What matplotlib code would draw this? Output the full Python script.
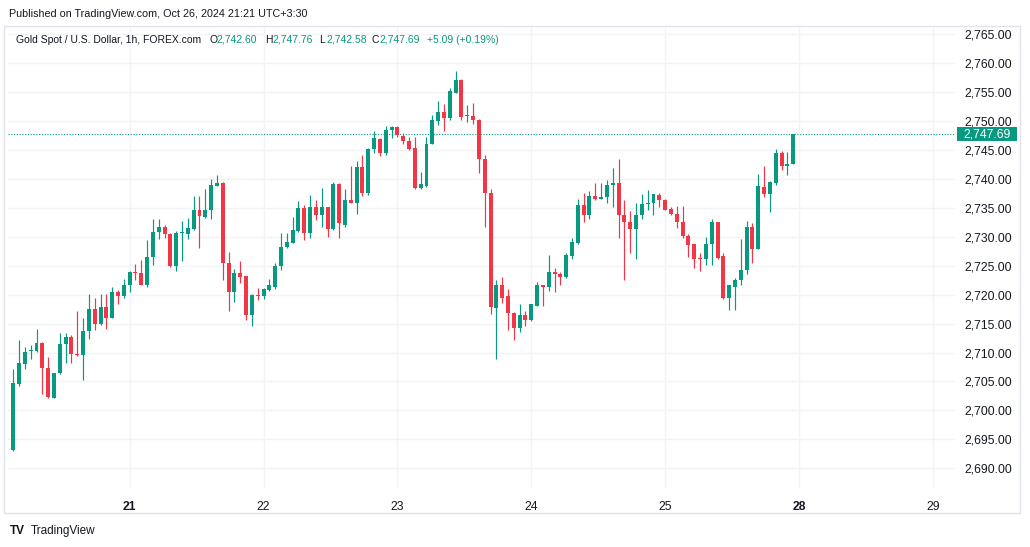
import matplotlib
matplotlib.use("Agg")
import matplotlib.pyplot as plt
import matplotlib.transforms as mtransforms
from matplotlib.patches import Rectangle
from matplotlib.ticker import FuncFormatter
import numpy as np

plt.rcParams['font.family'] = ['Liberation Sans', 'DejaVu Sans']

# hourly OHLC, XAUUSD (FOREX.com)
opens = [2693.1, 2704.5, 2708.1, 2710.2, 2710.3, 2711.7, 2707.4, 2702.2, 2706.4, 2711.4,
         2712.6, 2709.8, 2709.6, 2713.8, 2717.5, 2714.9, 2717.8, 2716.0, 2720.4, 2719.8,
         2721.6, 2723.9, 2723.8, 2721.7, 2726.5, 2730.8, 2731.7, 2730.5, 2724.9, 2730.6,
         2730.5, 2731.4, 2734.7, 2733.4, 2734.6, 2738.8, 2739.3, 2725.5, 2720.4, 2723.8,
         2723.2, 2716.4, 2720.0, 2719.7, 2720.8, 2721.4, 2724.9, 2728.2, 2729.0, 2731.0,
         2735.0, 2730.6, 2735.2, 2733.7, 2735.1, 2731.4, 2739.1, 2732.1, 2736.3, 2735.9,
         2742.0, 2737.6, 2745.2, 2746.8, 2744.5, 2748.5, 2749.0, 2747.4, 2746.6, 2745.4,
         2738.5, 2738.7, 2746.1, 2750.0, 2751.6, 2750.5, 2754.9, 2757.1, 2750.8, 2750.9,
         2750.2, 2743.4, 2737.6, 2717.7, 2721.7, 2719.7, 2716.9, 2714.2, 2716.4, 2715.6,
         2718.1, 2721.6, 2721.3, 2723.9, 2723.5, 2723.0, 2726.6, 2728.9, 2735.4, 2733.7,
         2737.0, 2736.6, 2736.9, 2738.9, 2739.3, 2733.8, 2732.6, 2731.3, 2733.8, 2735.6,
         2735.8, 2737.2, 2736.4, 2734.8, 2734.0, 2732.5, 2730.2, 2728.7, 2726.3, 2726.1,
         2728.7, 2732.5, 2726.6, 2719.4, 2721.4, 2722.5, 2724.3, 2731.7, 2727.9, 2738.6,
         2737.3, 2739.3, 2744.5, 2742.2, 2742.60]
highs = [2707.1, 2712.2, 2711.0, 2711.3, 2714.1, 2711.9, 2709.2, 2706.5, 2713.4, 2713.4,
         2713.0, 2717.2, 2715.9, 2720.1, 2719.4, 2720.1, 2720.1, 2721.4, 2720.8, 2722.7,
         2724.0, 2725.3, 2725.9, 2729.4, 2733.0, 2733.0, 2732.1, 2730.6, 2731.0, 2732.7,
         2733.3, 2737.0, 2737.0, 2738.3, 2740.0, 2740.6, 2739.4, 2727.3, 2724.4, 2725.8,
         2723.3, 2720.1, 2721.2, 2721.2, 2722.7, 2725.5, 2730.6, 2730.7, 2733.4, 2736.2,
         2735.4, 2737.2, 2736.3, 2738.5, 2735.2, 2739.5, 2739.2, 2738.2, 2742.2, 2743.1,
         2744.2, 2745.3, 2748.3, 2747.1, 2749.1, 2749.1, 2749.1, 2747.9, 2747.2, 2747.2,
         2741.2, 2747.2, 2751.0, 2753.4, 2752.9, 2755.7, 2758.6, 2757.2, 2752.8, 2753.1,
         2750.3, 2744.1, 2738.3, 2722.5, 2723.1, 2720.9, 2717.0, 2718.4, 2717.1, 2718.4,
         2722.1, 2721.7, 2726.9, 2724.6, 2723.9, 2727.2, 2729.8, 2736.6, 2737.5, 2737.9,
         2739.3, 2739.3, 2739.8, 2741.9, 2743.5, 2736.4, 2734.4, 2735.8, 2737.3, 2738.1,
         2737.4, 2737.6, 2736.5, 2735.2, 2735.3, 2735.3, 2730.4, 2728.8, 2727.2, 2730.0,
         2733.0, 2732.6, 2727.2, 2721.7, 2722.9, 2729.6, 2732.7, 2732.3, 2740.8, 2742.3,
         2739.6, 2745.2, 2744.8, 2744.7, 2747.76]
lows = [2693.0, 2704.2, 2707.2, 2708.9, 2710.1, 2702.9, 2702.2, 2702.1, 2706.3, 2708.2,
        2708.2, 2709.4, 2705.2, 2712.3, 2713.9, 2714.7, 2714.0, 2715.9, 2718.4, 2719.5,
        2720.4, 2722.6, 2721.6, 2721.3, 2725.2, 2729.6, 2729.8, 2724.8, 2724.0, 2725.8,
        2729.6, 2731.1, 2728.1, 2733.3, 2733.1, 2738.7, 2722.6, 2717.1, 2718.7, 2722.0,
        2715.7, 2714.5, 2719.1, 2719.3, 2720.7, 2720.9, 2724.3, 2728.1, 2728.9, 2730.9,
        2729.4, 2729.7, 2732.9, 2731.7, 2730.0, 2731.1, 2729.7, 2731.7, 2735.8, 2734.0,
        2737.0, 2737.2, 2744.4, 2744.0, 2744.1, 2747.0, 2747.2, 2746.1, 2744.9, 2738.3,
        2738.2, 2738.6, 2746.0, 2749.3, 2748.2, 2750.1, 2754.8, 2750.1, 2749.9, 2749.5,
        2741.0, 2731.7, 2716.6, 2708.8, 2718.5, 2713.9, 2712.2, 2713.5, 2714.5, 2715.4,
        2718.0, 2718.1, 2720.6, 2720.4, 2721.7, 2722.9, 2726.2, 2728.7, 2732.5, 2733.1,
        2736.3, 2736.5, 2735.9, 2735.2, 2729.8, 2722.6, 2727.2, 2726.1, 2733.1, 2734.6,
        2733.8, 2735.2, 2734.6, 2733.8, 2731.5, 2729.8, 2726.5, 2724.6, 2724.0, 2725.2,
        2725.2, 2726.2, 2719.2, 2717.3, 2717.4, 2721.6, 2723.5, 2725.5, 2727.8, 2736.9,
        2734.3, 2739.0, 2741.5, 2740.6, 2742.58]
closes = [2704.8, 2708.2, 2710.1, 2710.3, 2711.6, 2707.4, 2702.3, 2706.4, 2711.4, 2712.6,
          2709.7, 2709.6, 2713.8, 2717.5, 2714.9, 2717.8, 2715.9, 2720.4, 2719.8, 2721.7,
          2723.9, 2723.7, 2721.7, 2726.5, 2730.8, 2731.7, 2730.5, 2724.9, 2730.6, 2730.7,
          2731.5, 2734.7, 2733.6, 2734.7, 2738.9, 2739.3, 2725.4, 2720.4, 2723.8, 2723.0,
          2716.4, 2720.0, 2719.7, 2720.9, 2721.7, 2725.0, 2728.3, 2729.1, 2731.1, 2735.0,
          2730.7, 2735.2, 2733.7, 2735.1, 2731.4, 2739.1, 2732.3, 2736.4, 2735.9, 2742.0,
          2737.6, 2745.2, 2747.0, 2744.5, 2748.5, 2749.0, 2747.5, 2746.6, 2745.1, 2738.5,
          2739.1, 2746.1, 2750.2, 2751.6, 2750.5, 2755.1, 2757.1, 2750.6, 2751.0, 2750.1,
          2743.4, 2737.5, 2717.8, 2721.7, 2719.4, 2716.8, 2714.2, 2716.5, 2715.7, 2718.3,
          2721.6, 2721.3, 2723.9, 2723.5, 2723.0, 2726.8, 2729.1, 2735.4, 2733.7, 2737.0,
          2736.6, 2736.9, 2738.9, 2739.3, 2733.8, 2732.5, 2731.3, 2733.8, 2735.6, 2735.9,
          2737.3, 2736.3, 2734.7, 2734.0, 2732.5, 2730.1, 2728.5, 2726.2, 2726.1, 2728.8,
          2732.5, 2726.3, 2719.4, 2721.6, 2722.5, 2724.3, 2731.7, 2727.9, 2738.8, 2737.3,
          2739.5, 2744.5, 2742.2, 2742.6, 2747.69]

day_labels = ['21', '22', '23', '24', '25', '28', '29']
day_first_bar = [20, 43, 66, 89, 112, 135, 158]
week_start = ['21', '28']

last_price = closes[-1]
change = closes[-1] - closes[-2]

GREEN = '#089981'
RED = '#f23645'
TXT = '#131722'
GRID = '#f2f3f6'

W, H = 1030, 547
fig = plt.figure(figsize=(W / 100, H / 100), dpi=100)
fig.patch.set_facecolor('white')


def fx(px):
    return px / W


def fy(py):
    return 1 - py / H


ax = fig.add_axes([fx(8), fy(488), (955 - 8) / W, (488 - 26) / H])

o, h, l, c = map(np.array, (opens, highs, lows, closes))
x = np.arange(len(o))
cols = np.where(c >= o, GREEN, RED)
ax.vlines(x, l, h, colors=cols, lw=0.85, zorder=2)
ax.bar(x, np.maximum(np.abs(c - o), 0.18), bottom=np.minimum(o, c), width=0.68,
       color=cols, linewidth=0, zorder=3)

ax.set_xlim(-0.9, 161.8)
ax.set_ylim(2686.6, 2766.4)
ax.set_yticks(np.arange(2690, 2766, 5))
ax.yaxis.set_major_formatter(FuncFormatter(lambda v, p: f'{v:,.2f}'))
ax.yaxis.tick_right()
ax.set_xticks(day_first_bar)
ax.set_xticklabels(day_labels)
for t in ax.get_xticklabels():
    if t.get_text() in week_start:
        t.set_fontweight('bold')
ax.tick_params(axis='y', length=0, pad=7, labelsize=8.7, labelcolor=TXT)
ax.tick_params(axis='x', length=0, pad=9, labelsize=8.7, labelcolor=TXT)
ax.grid(True, color=GRID, lw=1)
ax.set_axisbelow(True)
for s in ax.spines.values():
    s.set_visible(False)

# last price line + label
ax.axhline(last_price, color=GREEN, lw=0.8, ls=(0, (1, 1.5)), zorder=1)
trans = mtransforms.blended_transform_factory(ax.transAxes, ax.transData)
bw = 60 / 947
bh = 14 / 5.78
ax.add_patch(Rectangle((2 / 947 + 1, last_price - bh / 2), bw, bh, transform=trans,
                       facecolor=GREEN, edgecolor='none', clip_on=False, zorder=5))
ax.text(1 + 32 / 947, last_price, f'{last_price:,.2f}', transform=trans, ha='center',
        va='center', color='white', fontsize=8.7, zorder=6, clip_on=False)

# panel border
fig.patches.append(Rectangle((fx(4), fy(513)), (1020 - 4) / W, (513 - 26) / H,
                             transform=fig.transFigure, fill=False, ec='#e0e3eb', lw=1))

fig.text(fx(9), fy(14), 'Published on TradingView.com, Oct 26, 2024 21:21 UTC+3:30',
         fontsize=7.75, color=TXT, va='center')

ly = fy(40)
fs = 7.45
fig.text(fx(16), ly, 'Gold Spot / U.S. Dollar, 1h, FOREX.com', fontsize=fs, color=TXT, va='center')
parts = [('O', opens[-1], 209), ('H', highs[-1], 265), ('L', lows[-1], 319), ('C', closes[-1], 372)]
for k, v, px in parts:
    fig.text(fx(px), ly, k, fontsize=fs, color=TXT, va='center')
    fig.text(fx(px + 7), ly, f'{v:,.2f}', fontsize=fs, color=GREEN, va='center')
pct = change / closes[-2] * 100
fig.text(fx(427), ly, f'{change:+.2f} ({pct:+.2f}%)', fontsize=fs, color=GREEN, va='center')

fig.text(fx(10), fy(531), 'TV', fontsize=8.5, fontweight='black', color=TXT, va='center')
fig.text(fx(31), fy(531), 'TradingView', fontsize=8.5, color=TXT, va='center')

fig.savefig('out.png', dpi=100)
